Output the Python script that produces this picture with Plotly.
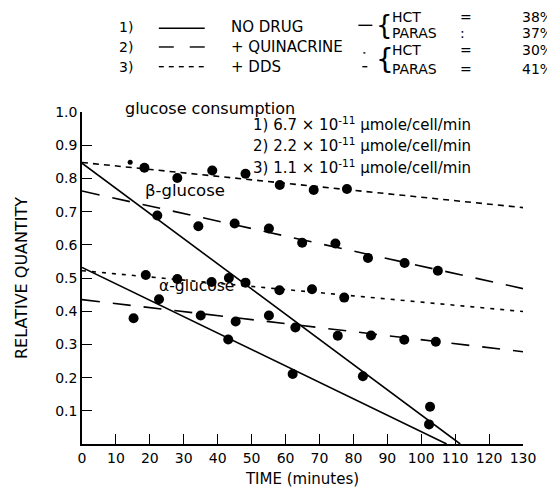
import plotly.graph_objects as go

# ---------------- data ----------------
# No drug (solid)
nd_beta_t = [22.2, 43.3, 82.8, 102.3]
nd_beta_v = [0.688, 0.500, 0.204, 0.059]
nd_alpha_t = [15.2, 22.7, 43.1, 62.1, 102.6]
nd_alpha_v = [0.379, 0.436, 0.315, 0.211, 0.112]
# + Quinacrine (long dash)
q_beta_t = [34.3, 45.0, 55.1, 64.9, 74.7, 84.3, 95.1, 104.9]
q_beta_v = [0.656, 0.664, 0.649, 0.606, 0.604, 0.560, 0.545, 0.522]
q_alpha_t = [35.0, 45.3, 55.1, 62.9, 75.4, 85.2, 95.0, 104.3]
q_alpha_v = [0.387, 0.369, 0.387, 0.351, 0.326, 0.327, 0.314, 0.308]
# + DDS (short dash)
d_beta_t = [18.4, 28.1, 38.4, 48.2, 58.3, 68.3, 78.1]
d_beta_v = [0.832, 0.801, 0.824, 0.814, 0.780, 0.765, 0.768]
d_beta_faint_t = [14.2]
d_beta_faint_v = [0.849]
d_alpha_t = [18.8, 28.1, 38.2, 48.2, 58.2, 67.8, 77.3]
d_alpha_v = [0.509, 0.497, 0.488, 0.486, 0.463, 0.466, 0.441]

# fitted lines (start/end)
nd_beta_fit_t = [0, 111.5]
nd_beta_fit_v = [0.846, 0.0]
nd_alpha_fit_t = [0, 107.5]
nd_alpha_fit_v = [0.532, 0.0]
q_beta_fit_t = [0, 130]
q_beta_fit_v = [0.762, 0.468]
q_alpha_fit_t = [0, 130]
q_alpha_fit_v = [0.435, 0.278]
d_beta_fit_t = [0, 130]
d_beta_fit_v = [0.848, 0.712]
d_alpha_fit_t = [0, 130]
d_alpha_fit_v = [0.522, 0.399]

x_ticks = list(range(0, 131, 10))
y_ticks = [0.1, 0.2, 0.3, 0.4, 0.5, 0.6, 0.7, 0.8, 0.9, 1.0]
y_tick_text = ["0.1", "0.2", "0.3", "0.4", "0.5", "0.6", "0.7", "0.8", "0.9", "1.0"]

# ---------------- layout geometry ----------------
W, H = 555, 489
L, R, T, B = 73, 40, 104, 48
PW, PH = W - L - R, H - T - B
FONT = "DejaVu Sans"


def px(x):
    return (x - L) / PW


def py(y):
    return (H - B - y) / PH


fig = go.Figure()

solid = dict(color="black", width=1.6)
qdash = dict(color="black", width=1.6, dash="18px,13px")
ddash_b = dict(color="black", width=1.6, dash="6px,5px")
ddash_a = dict(color="black", width=1.6, dash="4px,6px")

for t, v, ln in [
    (nd_beta_fit_t, nd_beta_fit_v, solid),
    (nd_alpha_fit_t, nd_alpha_fit_v, solid),
    (q_beta_fit_t, q_beta_fit_v, qdash),
    (q_alpha_fit_t, q_alpha_fit_v, qdash),
    (d_beta_fit_t, d_beta_fit_v, ddash_b),
    (d_alpha_fit_t, d_alpha_fit_v, ddash_a),
]:
    fig.add_trace(go.Scatter(x=t, y=v, mode="lines", line=ln, showlegend=False,
                             hoverinfo="skip", cliponaxis=False))

for t, v in [(nd_beta_t, nd_beta_v), (nd_alpha_t, nd_alpha_v), (q_beta_t, q_beta_v),
             (q_alpha_t, q_alpha_v), (d_beta_t, d_beta_v), (d_alpha_t, d_alpha_v)]:
    fig.add_trace(go.Scatter(x=t, y=v, mode="markers",
                             marker=dict(color="black", size=10, line=dict(width=0)),
                             showlegend=False))
fig.add_trace(go.Scatter(x=d_beta_faint_t, y=d_beta_faint_v, mode="markers",
                         marker=dict(color="black", size=5), showlegend=False))

annotations = []


def txt(x, y, s, size=14, anchor="left"):
    annotations.append(dict(x=px(x), y=py(y), xref="paper", yref="paper", text=s,
                            showarrow=False, xanchor=anchor, yanchor="middle",
                            font=dict(family=FONT, size=size, color="black")))


# legend block
txt(108, 18, "1)")
txt(108, 38, "2)")
txt(108, 58, "3)")
txt(220, 18, "NO DRUG", size=15)
txt(220, 38, "+ QUINACRINE", size=15)
txt(220, 58, "+ DDS", size=15)
txt(382, 8, "HCT")
txt(382, 24, "PARAS")
txt(382, 41, "HCT")
txt(382, 60, "PARAS")
txt(450, 8, "=")
txt(450, 24, ":")
txt(450, 41, "=")
txt(450, 60, "=")
txt(512, 8, "38%")
txt(512, 24, "37%")
txt(512, 41, "30%")
txt(512, 60, "41%")
txt(366, 16, "{", size=26)
txt(366, 51, "{", size=28)

# plot annotations
txt(114, 100, "glucose consumption", size=16)
txt(242, 116, "1) 6.7 × 10<sup>-11</sup> μmole/cell/min", size=15)
txt(242, 138, "2) 2.2 × 10<sup>-11</sup> μmole/cell/min", size=15)
txt(242, 160, "3) 1.1 × 10<sup>-11</sup> μmole/cell/min", size=15)
txt(176, 184, "β-glucose", size=16.5, anchor="center")
txt(188, 281, "α-glucose", size=15.5, anchor="center")

shapes = []


def seg(x0, y0, x1, y1):
    shapes.append(dict(type="line", xref="paper", yref="paper", x0=px(x0), y0=py(y0),
                       x1=px(x1), y1=py(y1), line=dict(color="black", width=1.4)))


seg(150, 19, 196, 19)
seg(150, 38, 165, 38)
seg(181, 38, 196, 38)
for k in range(5):
    seg(150 + k * 10, 58, 155 + k * 10, 58)
seg(350, 16, 364, 16)
seg(354, 58, 359, 58)
seg(355, 44, 357, 44)

fig.update_layout(
    width=W, height=H, autosize=False,
    margin=dict(l=L, r=R, t=T, b=B),
    paper_bgcolor="white", plot_bgcolor="white",
    font=dict(family=FONT, size=14, color="black"),
    annotations=annotations, shapes=shapes,
    xaxis=dict(range=[0, 130], tickvals=x_ticks, ticks="inside", ticklen=10, tickwidth=1.3,
               tickcolor="black", showline=True, linecolor="black", linewidth=1.6,
               showgrid=False, zeroline=False, tickfont=dict(size=14),
               title=dict(text="TIME (minutes)", font=dict(size=15), standoff=9)),
    yaxis=dict(range=[0, 1.0], tickvals=y_ticks, ticktext=y_tick_text, ticks="inside",
               ticklen=10, tickwidth=1.3, tickcolor="black", showline=True,
               linecolor="black", linewidth=1.6, showgrid=False, zeroline=False,
               tickfont=dict(size=14),
               title=dict(text="RELATIVE QUANTITY", font=dict(size=16), standoff=24)),
)

fig.write_html("out.html")
